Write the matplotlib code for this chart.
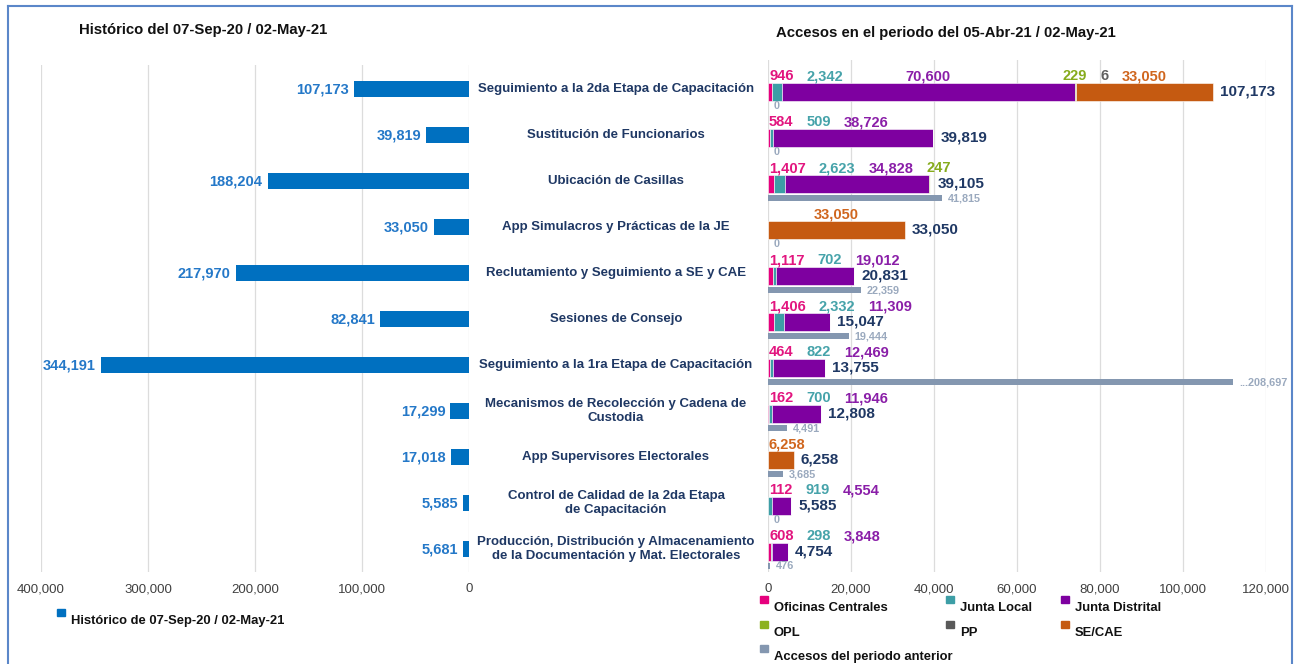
import matplotlib.pyplot as plt
import matplotlib.transforms as mtransforms
from matplotlib.lines import Line2D
from matplotlib.patches import Rectangle
from matplotlib.ticker import FuncFormatter, MultipleLocator

plt.rcParams["font.family"] = ["Liberation Sans", "DejaVu Sans"]

categories = [
    "Seguimiento a la 2da Etapa de Capacitación",
    "Sustitución de Funcionarios",
    "Ubicación de Casillas",
    "App Simulacros y Prácticas de la JE",
    "Reclutamiento y Seguimiento a SE y CAE",
    "Sesiones de Consejo",
    "Seguimiento a la 1ra Etapa de Capacitación",
    "Mecanismos de Recolección y Cadena de\nCustodia",
    "App Supervisores Electorales",
    "Control de Calidad de la 2da Etapa\nde Capacitación",
    "Producción, Distribución y Almacenamiento\nde la Documentación y Mat. Electorales",
]
historico = [107173, 39819, 188204, 33050, 217970, 82841, 344191, 17299, 17018, 5585, 5681]

oficinas_centrales = [946, 584, 1407, 0, 1117, 1406, 464, 162, 0, 112, 608]
junta_local = [2342, 509, 2623, 0, 702, 2332, 822, 700, 0, 919, 298]
junta_distrital = [70600, 38726, 34828, 0, 19012, 11309, 12469, 11946, 0, 4554, 3848]
opl = [229, 0, 247, 0, 0, 0, 0, 0, 0, 0, 0]
pp = [6, 0, 0, 0, 0, 0, 0, 0, 0, 0, 0]
se_cae = [33050, 0, 0, 33050, 0, 0, 0, 0, 6258, 0, 0]
periodo_anterior = [0, 0, 41815, 0, 22359, 19444, 208697, 4491, 3685, 0, 476]

series = [
    ("Oficinas Centrales", oficinas_centrales, "#e6007e", "#e2157f"),
    ("Junta Local", junta_local, "#3d9ea6", "#46a3aa"),
    ("Junta Distrital", junta_distrital, "#7e00a0", "#8a1ea8"),
    ("OPL", opl, "#8cb11e", "#86ab1c"),
    ("PP", pp, "#595959", "#606060"),
    ("SE/CAE", se_cae, "#c55a11", "#d0661e"),
]
prev_color = "#8497b0"
navy = "#1f3864"

W, H = 1296, 664
ROW0, STEP = 89, 46


def box(left, top, right, bottom):
    return [left / W, 1 - bottom / H, (right - left) / W, (bottom - top) / H]


def ylims(top, bottom):
    return ((bottom - ROW0) / STEP, (top - ROW0) / STEP)


fig = plt.figure(figsize=(W / 100, H / 100), dpi=100)
fmt = FuncFormatter(lambda v, p: f"{int(v):,}")
rows = list(range(len(categories)))

# ---- left panel: historico
axL = fig.add_axes(box(41, 65, 469, 572))
axL.barh(rows, historico, height=0.35, color="#0070c0", zorder=2)
for i, v in enumerate(historico):
    axL.annotate(f"{v:,}", (v, i), xytext=(-5, 0), textcoords="offset pixels",
                 ha="right", va="center", fontsize=10.5, fontweight="bold",
                 color="#2478c8")
axL.set_xlim(400000, 0)
axL.set_ylim(*ylims(65, 572))
axL.xaxis.set_major_locator(MultipleLocator(100000))

# ---- right panel: accesos del periodo
axR = fig.add_axes(box(768, 60, 1266, 572))
axR.set_xlim(0, 120000)
axR.set_ylim(*ylims(60, 572))
axR.xaxis.set_major_locator(MultipleLocator(20000))

stack_off, stack_h = 0.065, 0.41
prev_off, prev_h = 0.37, 0.13
lab_off = -0.28
cap = 112000

left = [0] * len(rows)
for name, vals, col, _ in series:
    axR.barh([r + stack_off for r in rows], vals, left=left, height=stack_h,
             color=col, edgecolor="white", linewidth=0.4, zorder=2)
    left = [a + b for a, b in zip(left, vals)]
totals = left

shown_prev = [min(v, cap) for v in periodo_anterior]
axR.barh([r + prev_off for r in rows], shown_prev, height=prev_h,
         color=prev_color, zorder=2)
for i, v in enumerate(periodo_anterior):
    txt = f"...{v:,}" if v > cap else f"{v:,}"
    axR.annotate(txt, (shown_prev[i], i + prev_off), xytext=(6, 0),
                 textcoords="offset pixels", ha="left", va="center",
                 fontsize=7.8, fontweight="bold", color="#9aa9be")
for i, t in enumerate(totals):
    axR.annotate(f"{t:,}", (t, i + stack_off), xytext=(7, 0),
                 textcoords="offset pixels", ha="left", va="center",
                 fontsize=11, fontweight="bold", color=navy)

# segment labels above the stacks, pushed right to avoid overlaps
renderer = fig.canvas.get_renderer()
gap = 13
for i in rows:
    start = 0
    prev_right = axR.transData.transform((0, 0))[0] + 1 - gap
    for name, vals, _, lcol in series:
        v = vals[i]
        if v <= 0:
            start += v
            continue
        t = axR.text(start + v / 2, i + lab_off, f"{v:,}", ha="center",
                     va="center", fontsize=10.5, fontweight="bold", color=lcol)
        w = t.get_window_extent(renderer).width
        cx, cy = axR.transData.transform((start + v / 2, i + lab_off))
        lx = max(cx - w / 2, prev_right + gap)
        nx = axR.transData.inverted().transform((lx + w / 2, cy))[0]
        t.set_x(nx)
        prev_right = lx + w
        start += v

for ax in (axL, axR):
    for s in ax.spines.values():
        s.set_visible(False)
    ax.xaxis.set_major_formatter(fmt)
    ax.set_yticks([])
    ax.tick_params(axis="x", length=0, pad=8, labelsize=9.5, labelcolor="#404040")
    ax.grid(axis="x", color="#dcdcdc", linewidth=0.9, zorder=0)
    ax.set_axisbelow(True)

# category names between the panels
trans = mtransforms.blended_transform_factory(fig.transFigure, axL.transData)
for i, c in enumerate(categories):
    fig.text(616 / W, i, c, transform=trans, ha="center", va="center",
             fontsize=9.5, fontweight="bold", color=navy, linespacing=1.15)

# titles
fig.text(79 / W, 1 - 30 / H, "Histórico del 07-Sep-20 / 02-May-21",
         ha="left", va="center", fontsize=10.7, fontweight="bold", color="#111111")
fig.text(776 / W, 1 - 33 / H, "Accesos en el periodo del 05-Abr-21 / 02-May-21",
         ha="left", va="center", fontsize=10.7, fontweight="bold", color="#111111")

# legends
def legend_item(x, y, color, label):
    fig.add_artist(Rectangle(((x) / W, 1 - (y - 2) / H), 7.5 / W, 7.5 / H,
                             transform=fig.transFigure, color=color))
    fig.text((x + 14) / W, 1 - (y + 3) / H, label, ha="left", va="center",
             fontsize=9.4, fontweight="bold", color="#111111")


legend_item(57, 618, "#0070c0", "Histórico de 07-Sep-20 / 02-May-21")
cols_x = [760, 946, 1061]
rows_y = [605, 630, 654]
items = [(n, c) for n, _, c, _ in series] + [("Accesos del periodo anterior", prev_color)]
for k, (n, c) in enumerate(items):
    legend_item(cols_x[k % 3], rows_y[k // 3], c, n)

# frame
fc = "#5b87c9"
fig.add_artist(Line2D([8 / W, 8 / W], [0, 1 - 6 / H], color=fc, lw=1.5))
fig.add_artist(Line2D([8 / W, 1292 / W], [1 - 6 / H, 1 - 6 / H], color=fc, lw=1.5))
fig.add_artist(Line2D([1292 / W, 1292 / W], [0, 1 - 6 / H], color=fc, lw=1.5))

fig.savefig("out.png", dpi=100)
